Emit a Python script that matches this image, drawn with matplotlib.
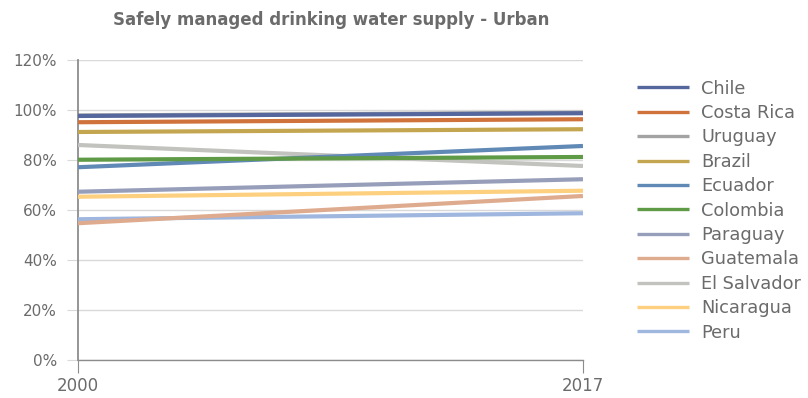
import matplotlib.pyplot as plt
from matplotlib.ticker import FuncFormatter

# series data (share of urban population, %)
years = [2000, 2017]
countries = ["Chile", "Costa Rica", "Uruguay", "Brazil", "Ecuador", "Colombia",
             "Paraguay", "Guatemala", "El Salvador", "Nicaragua", "Peru"]
chile = [97.6, 98.7]
costa_rica = [95.1, 96.3]
uruguay = [97.8, 98.9]
brazil = [91.2, 92.3]
ecuador = [77.1, 85.6]
colombia = [80.1, 81.2]
paraguay = [67.3, 72.3]
guatemala = [54.7, 65.6]
el_salvador = [86.0, 77.6]
nicaragua = [65.3, 67.7]
peru = [56.3, 58.7]
y_ticks = [0, 20, 40, 60, 80, 100, 120]

series = [chile, costa_rica, uruguay, brazil, ecuador, colombia,
          paraguay, guatemala, el_salvador, nicaragua, peru]
colors = ["#56679e", "#cf723b", "#a3a3a3", "#c4a650", "#6089b6", "#5f9a46",
          "#979eba", "#dfab8f", "#c2c2be", "#fdd07f", "#9fb7de"]
zorders = [4, 3, 2.5, 3, 3, 3, 3, 3, 2.8, 3, 2.9]

plt.rcParams['font.family'] = ['DejaVu Sans']
text_color = "#6b6b6b"

fig = plt.figure(figsize=(8.08, 3.98), dpi=100)
ax = fig.add_axes([0.0965, 0.0955, 0.625, 0.7538])

for name, vals, col, z in zip(countries, series, colors, zorders):
    ax.plot(years, vals, color=col, lw=3.0, label=name, zorder=z,
            solid_capstyle="butt")

ax.set_xlim(2000, 2017)
ax.set_ylim(0, 120)
ax.set_yticks(y_ticks)
ax.yaxis.set_major_formatter(FuncFormatter(lambda v, _: f"{v:.0f}%"))
ax.set_xticks(years)
ax.grid(axis="y", color="#d9d9d9", lw=1.0, zorder=0)
ax.set_axisbelow(True)

for side in ["top", "right"]:
    ax.spines[side].set_visible(False)
ax.spines["left"].set_color("#8c8c8c")
ax.spines["bottom"].set_color("#8c8c8c")
ax.spines["left"].set_linewidth(1.3)
ax.spines["bottom"].set_linewidth(1.0)
ax.tick_params(axis="y", length=8, color="#d9d9d9", labelsize=11,
               labelcolor=text_color, pad=7)
ax.tick_params(axis="x", length=9, color="#8c8c8c", labelsize=12,
               labelcolor=text_color, pad=3)

fig.text(0.41, 0.95, "Safely managed drinking water supply - Urban",
         ha="center", va="center", fontsize=12, fontweight="bold",
         color=text_color)

leg = ax.legend(loc="upper left", bbox_to_anchor=(1.092, 0.958), frameon=False,
                fontsize=12.8, handlelength=2.95, handletextpad=0.7,
                labelspacing=0.36, borderaxespad=0)
for h in leg.get_lines():
    h.set_linewidth(2.4)
for t in leg.get_texts():
    t.set_color(text_color)

fig.savefig("out.png", dpi=100)
